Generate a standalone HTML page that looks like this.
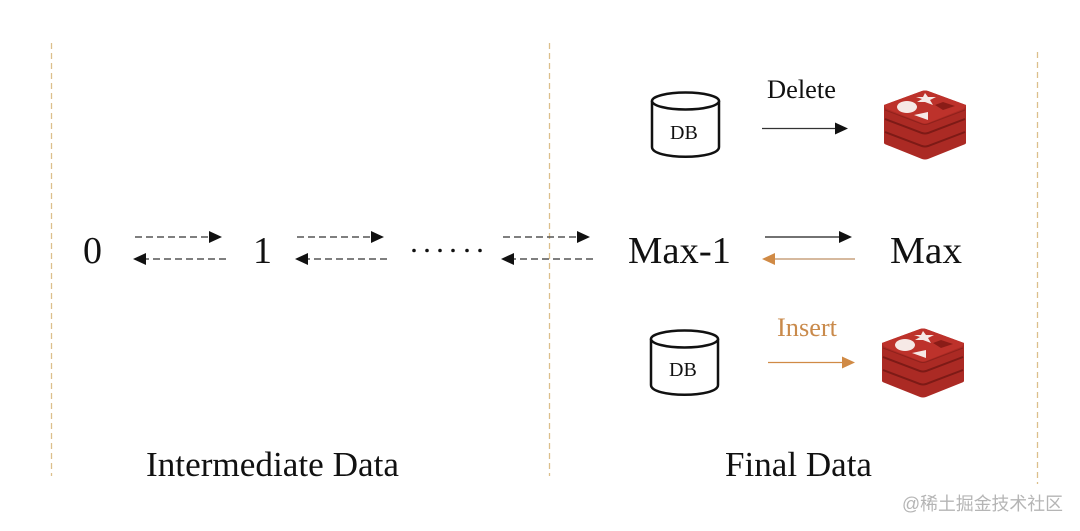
<!DOCTYPE html>
<html><head><meta charset="utf-8"><style>
html,body{margin:0;padding:0;background:#fff}
svg{display:block}
text{font-family:"Liberation Serif","Noto Serif CJK SC",serif;fill:#111}
</style></head><body>
<svg width="1080" height="531" viewBox="0 0 1080 531" xmlns="http://www.w3.org/2000/svg">
<defs>
<g id="redis">
  <path d="M0 14 L38 0 Q41 -1 44 0 L82 14 L82 52 Q82 53 79 54 L44 68 Q41 69 38 68 L3 54 Q0 53 0 52 Z" fill="#ab2a24"/>
  <path d="M0 14 L38 0 Q41 -1 44 0 L82 14 Q82 16 79 18 L44 32 Q41 33 38 32 L3 18 Q0 16 0 14 Z" fill="#bd322b"/>
  <path d="M1 28 L38 42 Q41 43 44 42 L81 28" fill="none" stroke="#7d1a16" stroke-width="2"/>
  <path d="M1 41 L38 55 Q41 56 44 55 L81 41" fill="none" stroke="#7d1a16" stroke-width="2"/>
  <path d="M1 19 L38 33 Q41 34 44 33 L81 19" fill="none" stroke="#8f211c" stroke-width="1"/>
  <ellipse cx="23" cy="16" rx="10" ry="6" fill="#f6e9e6"/>
  <path d="M41 2 L44 6 L52 6 L46 9 L49 14 L41 11 L33 11 L38 8 L32 6 L39 6 Z" fill="#f6e9e6"/>
  <path d="M30 24 L44 21 L44 29 Z" fill="#f6e9e6"/>
  <path d="M51 14 L59 11 L71 15 L59 19 Z" fill="#8a1c17"/>
</g>
<g id="db" fill="none" stroke="#111" stroke-width="2.500">
  <path d="M0 9 V55 C0 68 67 68 67 55 V9"/>
  <ellipse cx="33.500" cy="9" rx="33.500" ry="8.500" fill="#fff"/>
</g>
</defs>
<rect width="1080" height="531" fill="#fff"/>

<g stroke="#dcbf8c" stroke-width="1.300" stroke-dasharray="6 4" fill="none">
  <line x1="51.500" y1="43" x2="51.500" y2="476"/>
  <line x1="549.500" y1="43" x2="549.500" y2="476"/>
  <line x1="1037.500" y1="52" x2="1037.500" y2="484"/>
</g>

<g stroke="#555" stroke-width="1.500" stroke-dasharray="7 4" fill="none">
  <line x1="135" y1="237" x2="210" y2="237"/>
  <line x1="226" y1="259" x2="146" y2="259"/>
  <line x1="297" y1="237" x2="372" y2="237"/>
  <line x1="387" y1="259" x2="306" y2="259"/>
  <line x1="503" y1="237" x2="578" y2="237"/>
  <line x1="593" y1="259" x2="512" y2="259"/>
</g>
<g fill="#111">
  <path d="M209 231 L222 237 L209 243 Z"/>
  <path d="M146 253 L133 259 L146 265 Z"/>
  <path d="M371 231 L384 237 L371 243 Z"/>
  <path d="M308 253 L295 259 L308 265 Z"/>
  <path d="M577 231 L590 237 L577 243 Z"/>
  <path d="M514 253 L501 259 L514 265 Z"/>
  <circle cx="414" cy="250.500" r="1.800"/><circle cx="427" cy="250.500" r="1.800"/><circle cx="440" cy="250.500" r="1.800"/><circle cx="453" cy="250.500" r="1.800"/><circle cx="467" cy="250.500" r="1.800"/><circle cx="480" cy="250.500" r="1.800"/>
</g>

<line x1="765" y1="237" x2="842" y2="237" stroke="#444" stroke-width="1.500"/>
<path d="M839 231 L852 237 L839 243 Z" fill="#111"/>
<line x1="772" y1="259" x2="855" y2="259" stroke="#c9a27e" stroke-width="1.500"/>
<path d="M775 253 L762 259 L775 265 Z" fill="#d08a45"/>
<line x1="762" y1="128.500" x2="838" y2="128.500" stroke="#333" stroke-width="1.300"/>
<path d="M835 122.500 L848 128.500 L835 134.500 Z" fill="#111"/>
<line x1="768" y1="362.500" x2="845" y2="362.500" stroke="#d08a45" stroke-width="1.300"/>
<path d="M842 356.500 L855 362.500 L842 368.500 Z" fill="#d08a45"/>

<use href="#db" x="652" y="92"/>
<use href="#db" x="651" y="330"/>
<use href="#redis" x="884" y="91"/>
<use href="#redis" x="882" y="329"/>

<text x="83" y="263" font-size="38">0</text>
<text x="253" y="263" font-size="38">1</text>
<text x="628" y="263" font-size="38" textLength="103" lengthAdjust="spacingAndGlyphs">Max-1</text>
<text x="890" y="263" font-size="38" textLength="72" lengthAdjust="spacingAndGlyphs">Max</text>
<text x="146" y="476" font-size="35" textLength="253" lengthAdjust="spacingAndGlyphs">Intermediate Data</text>
<text x="725" y="476" font-size="35" textLength="147" lengthAdjust="spacingAndGlyphs">Final Data</text>
<text x="767" y="98" font-size="26" textLength="69" lengthAdjust="spacingAndGlyphs">Delete</text>
<text x="777" y="336" font-size="26" textLength="60" lengthAdjust="spacingAndGlyphs" style="fill:#c98a4b">Insert</text>
<text x="670" y="139" font-size="20">DB</text>
<text x="669" y="376" font-size="20">DB</text>
<text x="902" y="510" font-size="18" textLength="161" lengthAdjust="spacingAndGlyphs" style="font-family:'Liberation Sans','Noto Sans CJK SC',sans-serif;fill:#b5b5b5">@稀土掘金技术社区</text>
</svg>
</body></html>
